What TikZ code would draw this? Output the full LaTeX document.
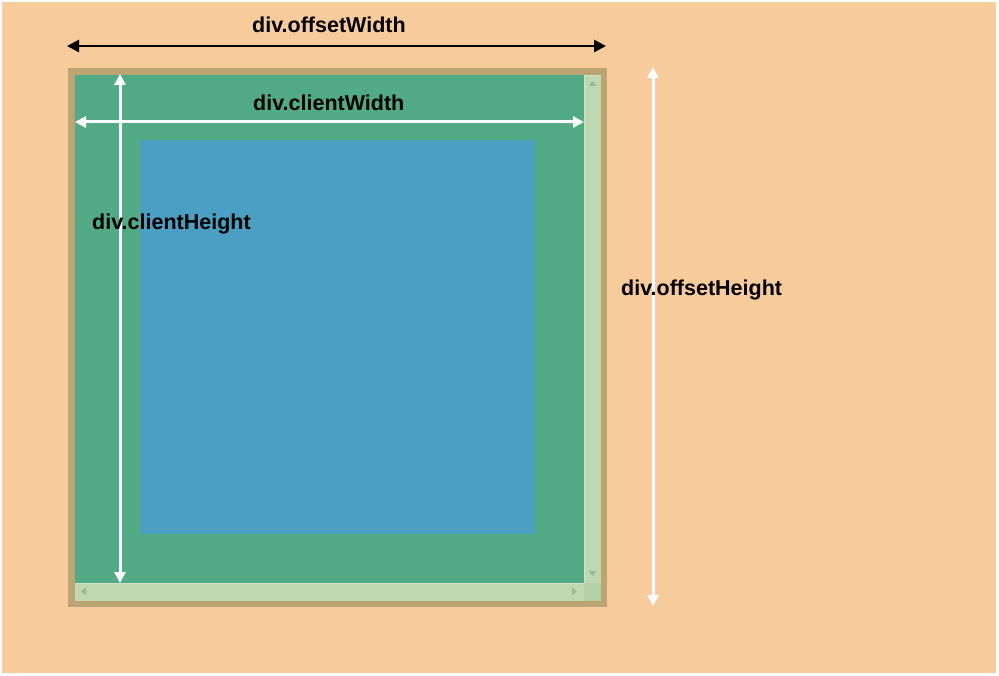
\documentclass[tikz,border=0pt]{standalone}
\usepackage{fontspec}
\setmainfont{Liberation Sans}
\usetikzlibrary{arrows.meta}
\definecolor{bgc}{HTML}{F8CB9C}
\definecolor{borderc}{HTML}{BAA573}
\definecolor{greenc}{HTML}{52AB84}
\definecolor{bluec}{HTML}{4A9FC3}
\definecolor{scrollc}{HTML}{BFD8B1}
\definecolor{cornerc}{HTML}{B4CEA5}
\definecolor{scrolledge}{HTML}{D0E4C4}
\definecolor{trianc}{HTML}{9CBA92}
\tikzset{
  lbl/.style={font=\bfseries\fontsize{21.5}{24}\selectfont, inner sep=0pt, anchor=base west},
  blackdim/.style={line width=2.7pt, black, {Triangle[length=12pt,width=12pt]}-{Triangle[length=12pt,width=12pt]}},
  whitedim/.style={line width=3pt, white, {Triangle[length=11pt,width=11pt]}-{Triangle[length=11pt,width=11pt]}},
  tri/.style={fill=trianc, draw=none}
}
\begin{document}
\begin{tikzpicture}[x=1pt,y=-1pt]
\useasboundingbox (0,0) rectangle (999,676);
\fill[white] (0,0) rectangle (999,676);
\fill[bgc] (2,2) rectangle (996,673);
% border box
\fill[borderc] (68,68) rectangle (607,607);
\fill[greenc] (75,75) rectangle (601,601);
% scrollbars
\fill[scrollc] (584,75) rectangle (601,583);
\fill[scrollc] (75,583) rectangle (584,601);
\fill[cornerc] (584,583) rectangle (601,601);
\draw[scrolledge, line width=1pt] (584.5,583) -- (584.5,75.5) -- (601,75.5);
\draw[scrolledge, line width=1pt] (75,583.5) -- (584,583.5);
% scrollbar arrows
\fill[tri] (592.5,81) -- (596.5,86) -- (588.5,86) -- cycle;
\fill[tri] (592.5,576) -- (596.5,571) -- (588.5,571) -- cycle;
\fill[tri] (81,591.5) -- (86,587.5) -- (86,595.5) -- cycle;
\fill[tri] (577,591.5) -- (572,587.5) -- (572,595.5) -- cycle;
% content box
\fill[bluec] (140,140) rectangle (535,534);
% dimension coordinates
\coordinate (owL) at (67,46);
\coordinate (owR) at (606,46);
\coordinate (cwL) at (75,122);
\coordinate (cwR) at (584,122);
\coordinate (chT) at (120,74);
\coordinate (chB) at (120,583);
\coordinate (ohT) at (653,67);
\coordinate (ohB) at (653,606);
\draw[blackdim] (owL) -- (owR);
\draw[whitedim] (cwL) -- (cwR);
\draw[whitedim] (chT) -- (chB);
\draw[whitedim] (ohT) -- (ohB);
% labels
\node[lbl] (tow) at (252,33) {div.offsetWidth};
\node[lbl] (tcw) at (253,111) {div.clientWidth};
\node[lbl] (tch) at (92,230) {div.clientHeight};
\node[lbl] (toh) at (621,296) {div.offsetHeight};
\end{tikzpicture}
\end{document}
